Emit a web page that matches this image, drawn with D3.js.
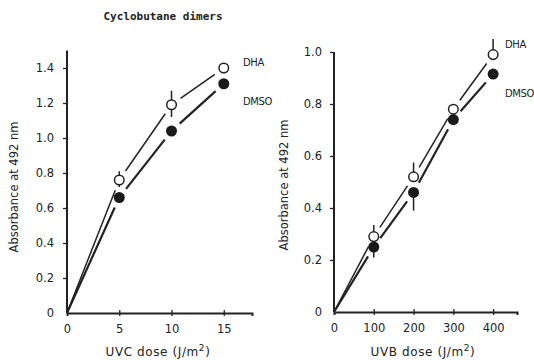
<!DOCTYPE html>
<html>
<script src="https://d3js.org/d3.v7.min.js"></script>
<style>
  body { margin: 0; background: #fff; }
  text { fill: #222; }
</style>
<body>
<div id="chart"></div>
<script>
    // left panel: UVC
    const uvcDose = [0, 5, 10, 15]
    const uvcDHA = [0, 0.76, 1.19, 1.40]
    const uvcDMSO = [0, 0.66, 1.04, 1.31]
    const uvcDHAerrUp = [0, 0.05, 0.08, 0]
    const uvcDHAerrDn = [0, 0.04, 0.07, 0]
    const uvcDMSOerrUp = [0, 0, 0, 0]
    const uvcDMSOerrDn = [0, 0, 0, 0]
    const uvcXTicks = [0, 5, 10, 15]
    const uvcYTicks = [0, 0.2, 0.4, 0.6, 0.8, 1.0, 1.2, 1.4]

    // right panel: UVB
    const uvbDose = [0, 100, 200, 300, 400]
    const uvbDHA = [0, 0.29, 0.52, 0.78, 0.99]
    const uvbDMSO = [0, 0.25, 0.46, 0.74, 0.915]
    const uvbDHAerrUp = [0, 0.045, 0.055, 0, 0.06]
    const uvbDHAerrDn = [0, 0, 0, 0, 0]
    const uvbDMSOerrUp = [0, 0, 0, 0, 0]
    const uvbDMSOerrDn = [0, 0.04, 0.07, 0, 0]
    const uvbXTicks = [0, 100, 200, 300, 400]
    const uvbYTicks = [0, 0.2, 0.4, 0.6, 0.8, 1.0]

    const width = 534, height = 360

    const svg = d3.select("#chart")
        .append("svg")
        .attr("width", width)
        .attr("height", height)

    svg.append("text")
        .attr("x", 163).attr("y", 20)
        .attr("text-anchor", "middle")
        .style("font-family", "DejaVu Sans Mono")
        .style("font-size", "11px")
        .style("font-weight", "bold")
        .text("Cyclobutane dimers")

    function panel(o) {
        const x = d3.scaleLinear().domain(o.xDomain).range(o.xRange)
        const y = d3.scaleLinear().domain(o.yDomain).range(o.yRange)
        const g = svg.append("g")
        const font = "DejaVu Sans"

        // axes
        const xAxis = g.append("g")
            .attr("transform", `translate(0,${y(0)})`)
            .call(d3.axisBottom(x).tickValues(o.xTicks).tickSize(3).tickPadding(9)
                .tickFormat(d => d))
        xAxis.select(".domain").attr("stroke-width", 2).attr("stroke", "#222")
        xAxis.selectAll(".tick line").attr("y1", -3).attr("stroke-width", 1.3)
            .attr("stroke", "#222")
            .filter(d => d === 0).remove()
        xAxis.selectAll(".tick text").style("font-family", font).style("font-size", "11.5px")

        const yAxis = g.append("g")
            .attr("transform", `translate(${x(0)},0)`)
            .call(d3.axisLeft(y).tickValues(o.yTicks).tickSize(4).tickPadding(o.yPad)
                .tickFormat(d => d === 0 ? "0" : d3.format(".1f")(d)))
        yAxis.select(".domain").attr("stroke-width", 2).attr("stroke", "#222")
            .attr("d", `M0,${y(0)}V${y(o.yDomain[1])}`)
        yAxis.selectAll(".tick line").attr("stroke-width", 1.3).attr("stroke", "#222")
            .filter(d => d === 0).remove()
        yAxis.selectAll(".tick text").style("font-family", font).style("font-size", "11.5px")

        g.append("text")
            .attr("transform", `translate(${o.yLabelX},${o.yLabelY}) rotate(-90)`)
            .attr("text-anchor", "middle")
            .style("font-family", font).style("font-size", "11.5px")
            .text("Absorbance at 492 nm")

        const xl = g.append("text")
            .attr("x", o.xLabelX).attr("y", 356)
            .attr("text-anchor", "middle")
            .style("font-family", font).style("font-size", "12px")
            .style("letter-spacing", "0.6px")
        xl.append("tspan").text(o.xLabel + " dose (J/m")
        xl.append("tspan").attr("dy", -5).style("font-size", "9px").text("2")
        xl.append("tspan").attr("dy", 5).text(")")

        // line segments with gaps around markers
        const gap = 11
        function segs(vals, w) {
            for (let i = 0; i < o.dose.length - 1; i++) {
                const x1 = x(o.dose[i]), y1 = y(vals[i])
                const x2 = x(o.dose[i + 1]), y2 = y(vals[i + 1])
                const len = Math.hypot(x2 - x1, y2 - y1)
                const ux = (x2 - x1) / len, uy = (y2 - y1) / len
                const s = i === 0 ? 0 : gap
                g.append("line")
                    .attr("x1", x1 + ux * s).attr("y1", y1 + uy * s)
                    .attr("x2", x2 - ux * gap).attr("y2", y2 - uy * gap)
                    .attr("stroke", "#222").attr("stroke-width", w)
            }
        }
        segs(o.dha, 1.5)
        segs(o.dmso, 2.2)

        function errs(vals, up, dn) {
            o.dose.forEach((d, i) => {
                if (up[i] > 0) g.append("line")
                    .attr("x1", x(d)).attr("x2", x(d))
                    .attr("y1", y(vals[i])).attr("y2", y(vals[i] + up[i]))
                    .attr("stroke", "#222").attr("stroke-width", 1.5)
                if (dn[i] > 0) g.append("line")
                    .attr("x1", x(d)).attr("x2", x(d))
                    .attr("y1", y(vals[i])).attr("y2", y(vals[i] - dn[i]))
                    .attr("stroke", "#222").attr("stroke-width", 1.5)
            })
        }
        errs(o.dha, o.dhaUp, o.dhaDn)
        errs(o.dmso, o.dmsoUp, o.dmsoDn)

        g.selectAll(".dmso").data(o.dose.slice(1))
            .join("circle")
            .attr("cx", d => x(d))
            .attr("cy", (d, i) => y(o.dmso[i + 1]))
            .attr("r", 5.5)
            .attr("fill", "#1a1a1a")

        g.selectAll(".dha").data(o.dose.slice(1))
            .join("circle")
            .attr("cx", d => x(d))
            .attr("cy", (d, i) => y(o.dha[i + 1]))
            .attr("r", 4.8)
            .attr("fill", "#fff")
            .attr("stroke", "#222")
            .attr("stroke-width", 1.5)

        g.append("text").attr("x", o.labX).attr("y", o.dhaLabY)
            .style("font-family", "DejaVu Sans").style("font-size", "10px")
            .style("letter-spacing", "-0.4px")
            .text("DHA")
        g.append("text").attr("x", o.labX).attr("y", o.dmsoLabY)
            .style("font-family", "DejaVu Sans").style("font-size", "10px")
            .style("letter-spacing", "-0.4px")
            .text("DMSO")
    }

    panel({
        dose: uvcDose, dha: uvcDHA, dmso: uvcDMSO,
        dhaUp: uvcDHAerrUp, dhaDn: uvcDHAerrDn, dmsoUp: uvcDMSOerrUp, dmsoDn: uvcDMSOerrDn,
        xDomain: [0, 17.7], xRange: [67, 252],
        yDomain: [0, 1.5], yRange: [313, 50.5],
        xTicks: uvcXTicks, yTicks: uvcYTicks, yPad: 9,
        yLabelX: 18, yLabelY: 187, xLabelX: 158, xLabel: "UVC",
        labX: 243, dhaLabY: 66, dmsoLabY: 105
    })

    panel({
        dose: uvbDose, dha: uvbDHA, dmso: uvbDMSO,
        dhaUp: uvbDHAerrUp, dhaDn: uvbDHAerrDn, dmsoUp: uvbDMSOerrUp, dmsoDn: uvbDMSOerrDn,
        xDomain: [0, 460], xRange: [334, 517],
        yDomain: [0, 1.0], yRange: [312, 52],
        xTicks: uvbXTicks, yTicks: uvbYTicks, yPad: 8,
        yLabelX: 288, yLabelY: 185, xLabelX: 423, xLabel: "UVB",
        labX: 505, dhaLabY: 48, dmsoLabY: 97
    })
</script>
</body>
</html>
